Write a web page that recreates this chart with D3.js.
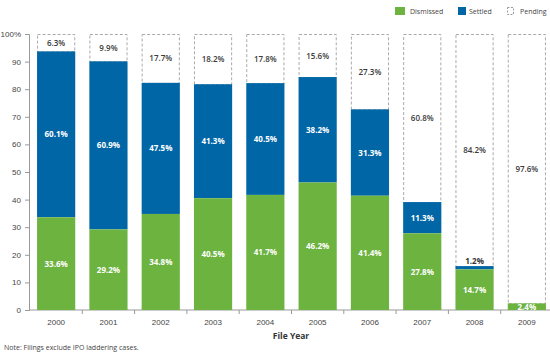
<!DOCTYPE html>
<html>
<head>
<meta charset="utf-8">
<script src="https://cdn.jsdelivr.net/npm/d3@7"></script>
<style>
  body { margin: 0; background: #fff; }
  svg { display: block; font-family: "Open Sans", "DejaVu Sans", sans-serif; }
  .tick text { fill: #444; }
</style>
</head>
<body>
<svg width="550" height="353"></svg>
<script>
const years = ['2000', '2001', '2002', '2003', '2004', '2005', '2006', '2007', '2008', '2009'];
const dismissed = [33.6, 29.2, 34.8, 40.5, 41.7, 46.2, 41.4, 27.8, 14.7, 2.4];
const settled = [60.1, 60.9, 47.5, 41.3, 40.5, 38.2, 31.3, 11.3, 1.2, 0];
const pending = [6.3, 9.9, 17.7, 18.2, 17.8, 15.6, 27.3, 60.8, 84.2, 97.6];
const yTicks = [0, 10, 20, 30, 40, 50, 60, 70, 80, 90, 100];

const green = '#6db33f';
const blue = '#0066a6';

const svg = d3.select('svg');

const xScale = d3.scaleBand()
  .domain(years)
  .range([30, 553])
  .paddingInner(0.27)
  .paddingOuter(0.135);

const yScale = d3.scaleLinear()
  .domain([0, 100])
  .range([310, 34]);

const rows = years.map((y, i) => ({
  year: y,
  dismissed: dismissed[i],
  settled: settled[i],
  pending: pending[i]
}));

// y axis
const yAxis = svg.append('g')
  .attr('transform', 'translate(29,0)')
  .call(d3.axisLeft(yScale).tickValues(yTicks).tickSize(4).tickPadding(4)
    .tickFormat(d => d === 100 ? '100%' : d));
yAxis.selectAll('.domain, .tick line').attr('stroke', '#999');
yAxis.selectAll('.tick text').style('font-size', '8px');

// x axis
const xAxis = svg.append('g')
  .attr('transform', 'translate(0,310)')
  .call(d3.axisBottom(xScale).tickSize(0).tickPadding(9));
xAxis.select('.domain').attr('stroke', '#999').attr('d', 'M29,0H553');
xAxis.selectAll('.tick text').style('font-size', '8px');

// small ticks between categories
const step = xScale.step();
svg.append('g').selectAll('line')
  .data(years.slice(1))
  .enter().append('line')
  .attr('x1', d => xScale(d) - (step - xScale.bandwidth()) / 2)
  .attr('x2', d => xScale(d) - (step - xScale.bandwidth()) / 2)
  .attr('y1', 310).attr('y2', 314)
  .attr('stroke', '#999');

// pending (dashed) boxes
svg.append('g').selectAll('rect')
  .data(rows).enter().append('rect')
  .attr('x', d => xScale(d.year) + 0.5)
  .attr('y', yScale(100) + 0.5)
  .attr('width', xScale.bandwidth() - 1)
  .attr('height', d => yScale(d.dismissed + d.settled) - yScale(100))
  .attr('fill', '#fff')
  .attr('stroke', '#aaa')
  .attr('stroke-dasharray', '3,2');

// settled
svg.append('g').selectAll('rect')
  .data(rows.filter(d => d.settled > 0)).enter().append('rect')
  .attr('x', d => xScale(d.year))
  .attr('y', d => yScale(d.dismissed + d.settled))
  .attr('width', xScale.bandwidth())
  .attr('height', d => yScale(d.dismissed) - yScale(d.dismissed + d.settled))
  .attr('fill', blue);

// dismissed
svg.append('g').selectAll('rect')
  .data(rows).enter().append('rect')
  .attr('x', d => xScale(d.year))
  .attr('y', d => yScale(d.dismissed))
  .attr('width', xScale.bandwidth())
  .attr('height', d => yScale(0) - yScale(d.dismissed))
  .attr('fill', green);

const cx = d => xScale(d.year) + xScale.bandwidth() / 2;
const fmt = v => v.toFixed(1) + '%';

const labels = svg.append('g')
  .attr('text-anchor', 'middle')
  .style('font-size', '8px')
  .style('font-weight', 'bold');

labels.selectAll('.dl').data(rows).enter().append('text')
  .attr('x', cx)
  .attr('y', d => yScale(d.dismissed / 2) + 3)
  .attr('fill', '#fff')
  .text(d => fmt(d.dismissed));

labels.selectAll('.sl').data(rows.filter(d => d.settled > 0)).enter().append('text')
  .attr('x', cx)
  .attr('y', d => d.settled < 3
    ? yScale(d.dismissed + d.settled) - 2
    : yScale(d.dismissed + d.settled / 2) + 3)
  .attr('fill', d => d.settled < 3 ? '#333' : '#fff')
  .text(d => fmt(d.settled));

labels.selectAll('.pl').data(rows).enter().append('text')
  .attr('x', cx)
  .attr('y', d => yScale(100 - d.pending / 2) + 3)
  .attr('fill', '#3a3a3a')
  .style('font-weight', 600)
  .text(d => fmt(d.pending));

// axis title and note
svg.append('text')
  .attr('x', 291).attr('y', 339)
  .attr('text-anchor', 'middle')
  .style('font-size', '8.5px').style('font-weight', 'bold')
  .attr('fill', '#333')
  .text('File Year');

svg.append('text')
  .attr('x', 4).attr('y', 350)
  .style('font-size', '7px')
  .attr('fill', '#444')
  .text('Note: Filings exclude IPO laddering cases.');

// legend
const legend = svg.append('g').style('font-size', '7px').attr('fill', '#444');
legend.append('rect').attr('x', 395).attr('y', 7).attr('width', 10).attr('height', 8).attr('fill', green);
legend.append('text').attr('x', 410).attr('y', 13.5).text('Dismissed');
legend.append('rect').attr('x', 458).attr('y', 7).attr('width', 8).attr('height', 8).attr('fill', blue);
legend.append('text').attr('x', 469).attr('y', 13.5).text('Settled');
legend.append('rect').attr('x', 507.5).attr('y', 7.5).attr('width', 6).attr('height', 7)
  .attr('fill', 'none').attr('stroke', '#999').attr('stroke-dasharray', '2,1.5');
legend.append('text').attr('x', 520).attr('y', 13.5).text('Pending');
</script>
</body>
</html>
